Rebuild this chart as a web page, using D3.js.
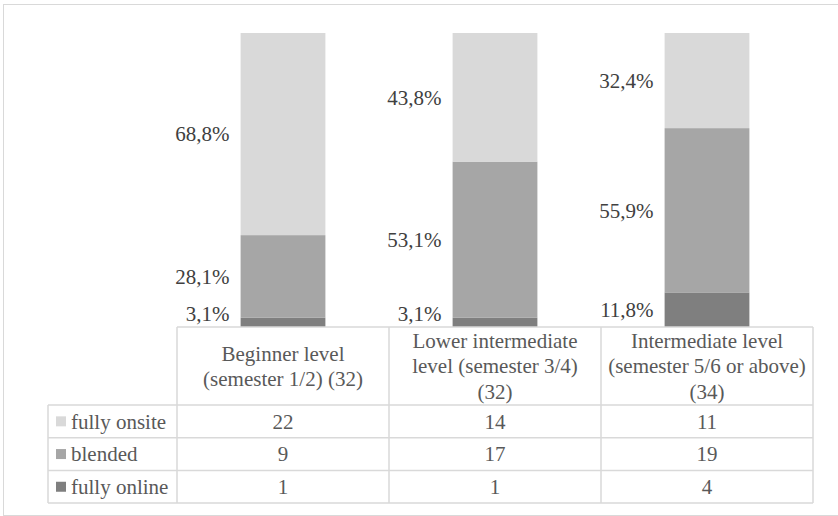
<!DOCTYPE html>
<html>
<head>
<meta charset="utf-8">
<script src="https://cdn.jsdelivr.net/npm/d3@7"></script>
<style>
  body { margin: 0; background: #fff; }
</style>
</head>
<body>
<div id="chart"></div>
<script>
// data
const categories = [
  ["Beginner level", "(semester 1/2) (32)"],
  ["Lower intermediate", "level (semester 3/4)", "(32)"],
  ["Intermediate level", "(semester 5/6 or above)", "(34)"]
];
const seriesNames = ["fully onsite", "blended", "fully online"];
const fullyOnsite = [22, 14, 11];
const blended = [9, 17, 19];
const fullyOnline = [1, 1, 4];

const WIDTH = 838, HEIGHT = 516;
const FONT = "Liberation Serif";
const colors = {"fully onsite": "#d9d9d9", "blended": "#a6a6a6", "fully online": "#7f7f7f"};

const svg = d3.select("#chart").append("svg")
  .attr("width", WIDTH)
  .attr("height", HEIGHT);

// outer frame
svg.append("rect")
  .attr("x", 3.5).attr("y", 4.5)
  .attr("width", 840).attr("height", 511)
  .attr("fill", "none")
  .attr("stroke", "#d9d9d9");

const rows = categories.map((c, i) => ({
  key: i,
  "fully online": fullyOnline[i],
  "blended": blended[i],
  "fully onsite": fullyOnsite[i]
}));

// stack bottom -> top: online, blended, onsite
const stack = d3.stack()
  .keys(["fully online", "blended", "fully onsite"])
  .offset(d3.stackOffsetExpand);
const series = stack(rows);

const TABLE_LEFT = 48, COL_LEFT = 177, TABLE_RIGHT = 813;
const BAR_BOTTOM = 327, BAR_TOP = 33;

const x = d3.scaleBand()
  .domain(d3.range(categories.length))
  .range([COL_LEFT, TABLE_RIGHT])
  .paddingInner(0.6)
  .paddingOuter(0.3);

const y = d3.scaleLinear()
  .domain([0, 1])
  .range([BAR_BOTTOM, BAR_TOP]);

const fmt = v => d3.format(".1f")(v * 100).replace(".", ",") + "%";

series.forEach(s => {
  svg.append("g").selectAll("rect")
    .data(s)
    .enter()
    .append("rect")
      .attr("x", (d, i) => x(i))
      .attr("y", d => y(d[1]))
      .attr("width", x.bandwidth())
      .attr("height", d => y(d[0]) - y(d[1]))
      .attr("fill", colors[s.key]);

  svg.append("g").selectAll("text")
    .data(s)
    .enter()
    .append("text")
      .attr("x", (d, i) => x(i) - 11)
      .attr("y", d => Math.min((y(d[0]) + y(d[1])) / 2, y(d[0]) - 13))
      .attr("dy", "0.35em")
      .attr("text-anchor", "end")
      .attr("font-family", FONT)
      .attr("font-size", "21px")
      .attr("fill", "#404040")
      .text(d => fmt(d[1] - d[0]));
});

// data table
const HEADER_BOTTOM = 405, ROW_H = 32.7;
const colStep = x.step();
const colEdges = d3.range(categories.length + 1).map(i => COL_LEFT + i * colStep);
const tableBottom = HEADER_BOTTOM + ROW_H * seriesNames.length;
const grid = svg.append("g")
  .attr("stroke", "#d9d9d9")
  .attr("stroke-width", 1.5);

colEdges.forEach(cx => {
  grid.append("line")
    .attr("x1", cx).attr("x2", cx)
    .attr("y1", BAR_BOTTOM).attr("y2", tableBottom);
});
grid.append("line")
  .attr("x1", COL_LEFT).attr("x2", TABLE_RIGHT)
  .attr("y1", BAR_BOTTOM).attr("y2", BAR_BOTTOM);
grid.append("line")
  .attr("x1", TABLE_LEFT).attr("x2", TABLE_LEFT)
  .attr("y1", HEADER_BOTTOM).attr("y2", tableBottom);
d3.range(seriesNames.length + 1).forEach(r => {
  grid.append("line")
    .attr("x1", TABLE_LEFT).attr("x2", TABLE_RIGHT)
    .attr("y1", HEADER_BOTTOM + r * ROW_H).attr("y2", HEADER_BOTTOM + r * ROW_H);
});

// header text
const LINE_H = 25.3;
categories.forEach((lines, i) => {
  const cy = (BAR_BOTTOM + HEADER_BOTTOM) / 2;
  const t = svg.append("text")
    .attr("text-anchor", "middle")
    .attr("font-family", FONT)
    .attr("font-size", "21px")
    .attr("fill", "#595959");
  lines.forEach((ln, j) => {
    t.append("tspan")
      .attr("x", x(i) + x.bandwidth() / 2)
      .attr("y", cy + (j - (lines.length - 1) / 2) * LINE_H)
      .attr("dy", "0.35em")
      .text(ln);
  });
});

// rows: legend key + values
const values = {"fully onsite": fullyOnsite, "blended": blended, "fully online": fullyOnline};
seriesNames.forEach((name, r) => {
  const cy = HEADER_BOTTOM + r * ROW_H + ROW_H / 2;
  svg.append("rect")
    .attr("x", 56).attr("y", cy - 5)
    .attr("width", 10).attr("height", 10)
    .attr("fill", colors[name]);
  svg.append("text")
    .attr("x", 71).attr("y", cy)
    .attr("dy", "0.35em")
    .attr("font-family", FONT)
    .attr("font-size", "21px")
    .attr("fill", "#595959")
    .text(name);
  values[name].forEach((v, i) => {
    svg.append("text")
      .attr("x", x(i) + x.bandwidth() / 2)
      .attr("y", cy)
      .attr("dy", "0.35em")
      .attr("text-anchor", "middle")
      .attr("font-family", FONT)
      .attr("font-size", "21px")
      .attr("fill", "#595959")
      .text(v);
  });
});
</script>
</body>
</html>
